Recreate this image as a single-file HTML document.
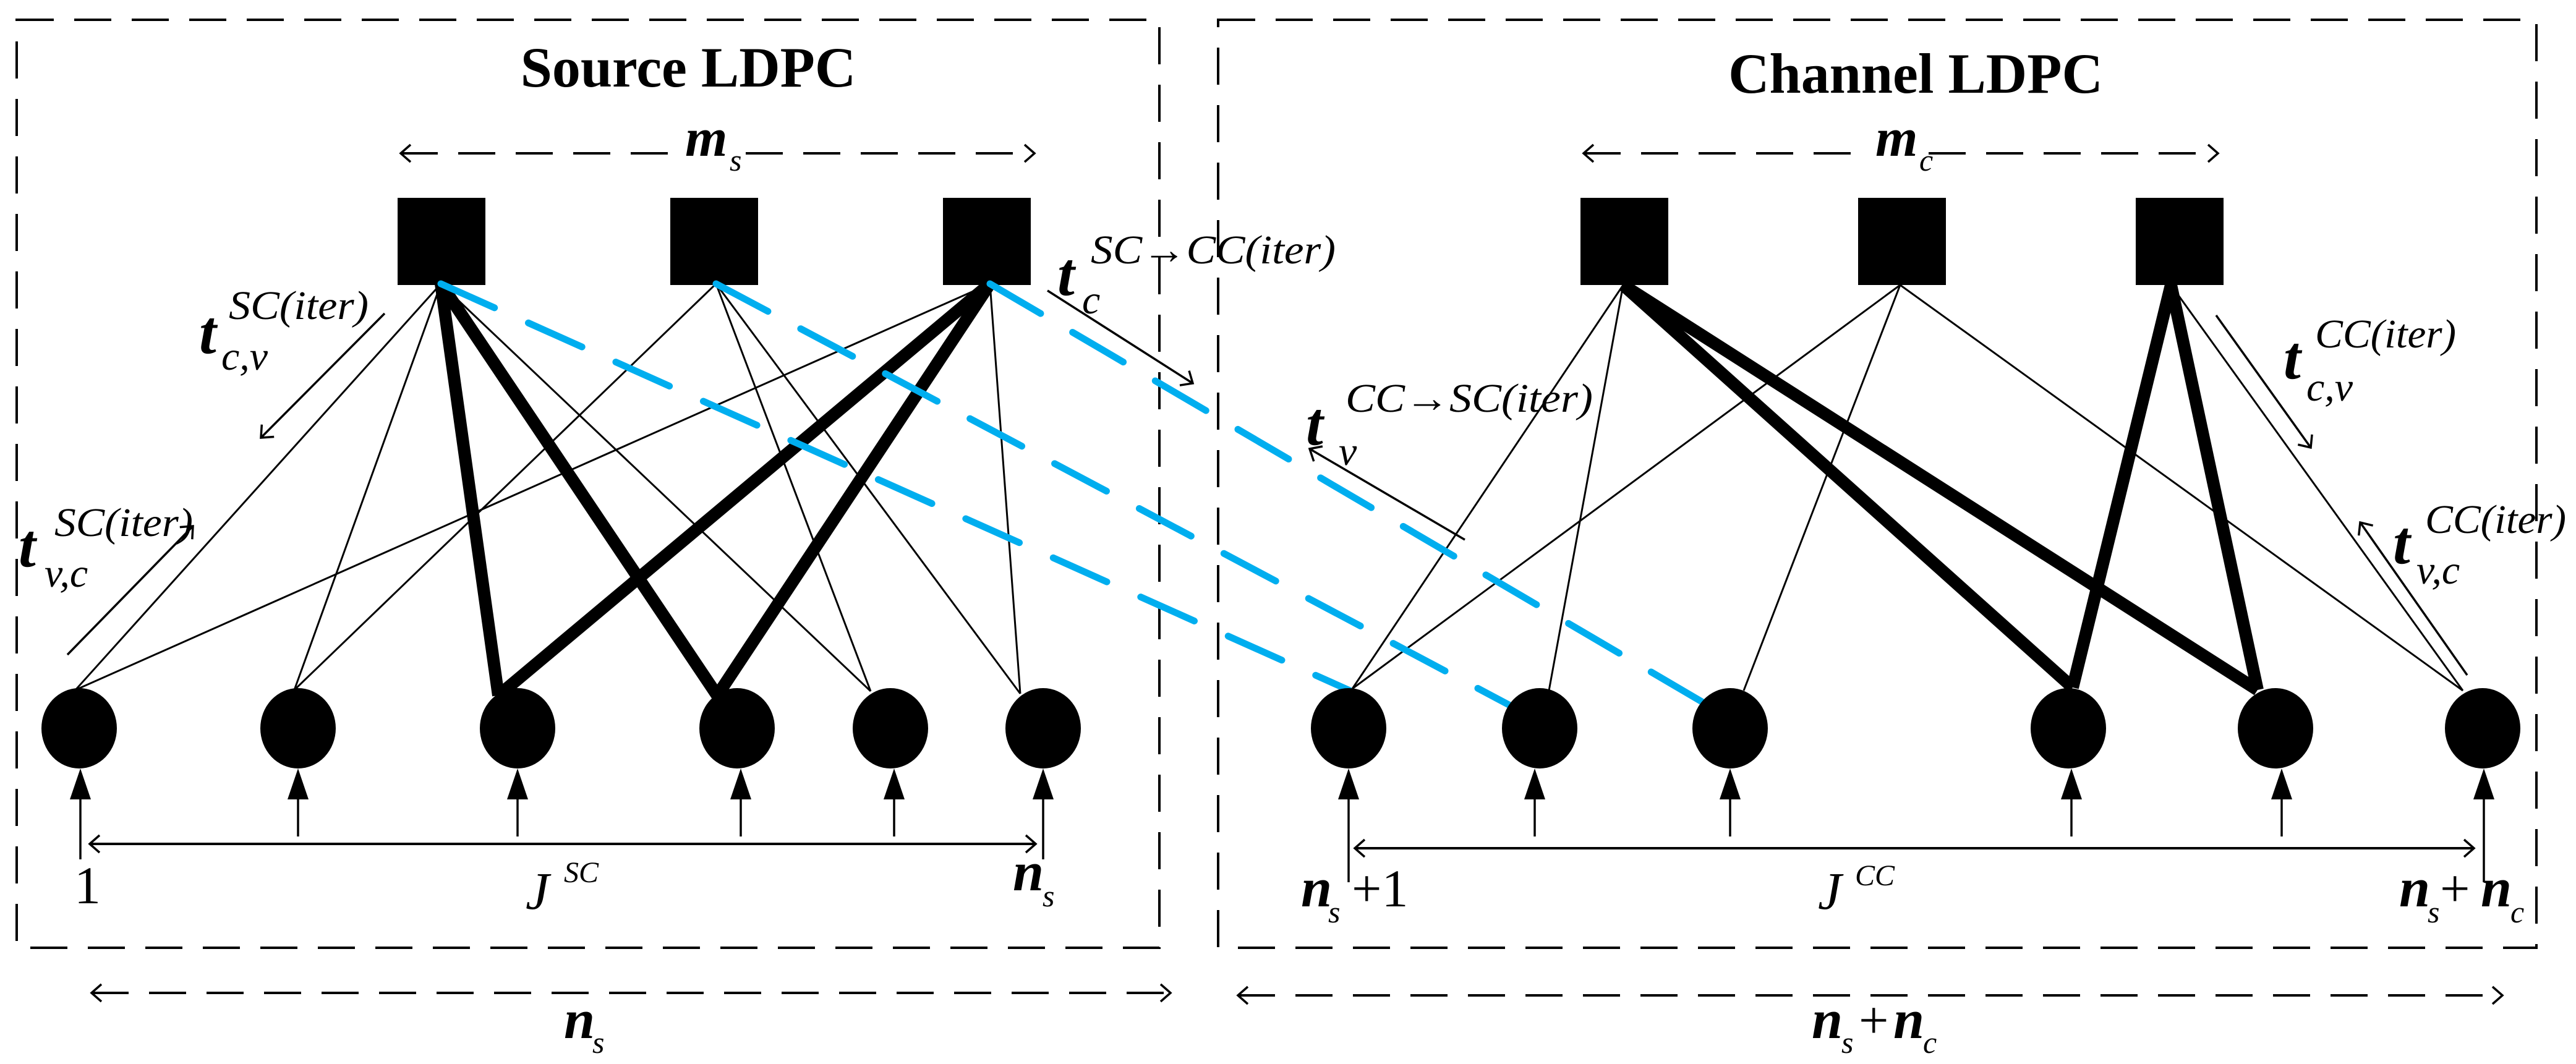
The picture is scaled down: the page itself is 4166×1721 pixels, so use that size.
<!DOCTYPE html>
<html><head><meta charset="utf-8"><style>
html,body{margin:0;padding:0;background:#fff;}
svg{display:block;}
text{font-family:"Liberation Serif",serif;fill:#000;}
.b{font-weight:bold;}
.i{font-style:italic;}
.bi{font-weight:bold;font-style:italic;}
</style></head><body>
<svg width="4166" height="1721" viewBox="0 0 4166 1721" xmlns="http://www.w3.org/2000/svg">
<defs>
<marker id="oa" markerWidth="40" markerHeight="40" refX="20" refY="20" orient="auto" markerUnits="userSpaceOnUse">
<path d="M4,6 L20,20 L4,34" fill="none" stroke="#000" stroke-width="3.5"/>
</marker>
<marker id="oas" markerWidth="40" markerHeight="40" refX="20" refY="20" orient="auto-start-reverse" markerUnits="userSpaceOnUse">
<path d="M4,6 L20,20 L4,34" fill="none" stroke="#000" stroke-width="3.5"/>
</marker>
</defs>

<!-- dashed boxes -->
<g fill="none" stroke="#000" stroke-width="4" stroke-dasharray="60,33">
<rect x="27" y="32" width="1848" height="1501"/>
<rect x="1970" y="32" width="2132" height="1501"/>
</g>

<!-- titles -->
<text x="1113" y="140" class="b" font-size="92" text-anchor="middle">Source LDPC</text>
<text x="3098" y="150" class="b" font-size="92" text-anchor="middle">Channel LDPC</text>

<!-- m arrows -->
<g fill="none" stroke="#000" stroke-width="4" stroke-dasharray="60,33">
<line x1="648" y1="248" x2="1673" y2="248" marker-start="url(#oas)" marker-end="url(#oa)"/>
<line x1="2561" y1="248" x2="3587" y2="248" marker-start="url(#oas)" marker-end="url(#oa)"/>
</g>
<rect x="1100" y="200" width="90" height="90" fill="#fff"/>
<rect x="3025" y="200" width="90" height="90" fill="#fff"/>
<text x="1108" y="252" class="bi" font-size="88">m</text>
<text x="1180" y="276" class="i" font-size="50">s</text>
<text x="3033" y="252" class="bi" font-size="88">m</text>
<text x="3104" y="276" class="i" font-size="50">c</text>

<!-- squares -->
<g fill="#000">
<rect x="643" y="320" width="142" height="141"/>
<rect x="1084" y="320" width="142" height="141"/>
<rect x="1525" y="320" width="142" height="141"/>
<rect x="2556" y="320" width="142" height="141"/>
<rect x="3005" y="320" width="142" height="141"/>
<rect x="3454" y="320" width="142" height="141"/>
</g>

<!-- thin edges left -->
<g stroke="#000" stroke-width="3" fill="none">
<line x1="713" y1="459" x2="122" y2="1116"/>
<line x1="713" y1="459" x2="476" y2="1116"/>
<line x1="713" y1="459" x2="1408" y2="1118"/>
<line x1="1158" y1="459" x2="476" y2="1116"/>
<line x1="1158" y1="459" x2="1408" y2="1118"/>
<line x1="1158" y1="459" x2="1650" y2="1122"/>
<line x1="1601" y1="459" x2="122" y2="1116"/>
<line x1="1601" y1="459" x2="1650" y2="1122"/>
<!-- right -->
<line x1="2625" y1="461" x2="2187" y2="1114"/>
<line x1="2625" y1="461" x2="2505" y2="1117"/>
<line x1="3073" y1="461" x2="2187" y2="1114"/>
<line x1="3073" y1="461" x2="2820" y2="1117"/>
<line x1="3073" y1="461" x2="3983" y2="1117"/>
<line x1="3511" y1="461" x2="3983" y2="1117"/>
</g>

<!-- thick edges -->
<g stroke="#000" stroke-width="20" fill="none" stroke-linecap="butt">
<line x1="713" y1="459" x2="806" y2="1125"/>
<line x1="713" y1="459" x2="1160" y2="1125"/>
<line x1="1601" y1="459" x2="806" y2="1125"/>
<line x1="1601" y1="459" x2="1160" y2="1125"/>
<line x1="2625" y1="461" x2="3352" y2="1112"/>
<line x1="2625" y1="461" x2="3651" y2="1116"/>
<line x1="3511" y1="461" x2="3352" y2="1112"/>
<line x1="3511" y1="461" x2="3651" y2="1116"/>
</g>

<!-- blue dashed -->
<g stroke="#00AEEF" stroke-width="11" fill="none" stroke-dasharray="95,60" stroke-linecap="round">
<line x1="713" y1="459" x2="2183" y2="1117"/>
<line x1="1158" y1="459" x2="2442" y2="1141"/>
<line x1="1601" y1="459" x2="2754" y2="1136"/>
</g>

<!-- circles -->
<g fill="#000">
<ellipse cx="128" cy="1178" rx="61" ry="65"/>
<ellipse cx="482" cy="1178" rx="61" ry="65"/>
<ellipse cx="837" cy="1178" rx="61" ry="65"/>
<ellipse cx="1192" cy="1178" rx="61" ry="65"/>
<ellipse cx="1440" cy="1178" rx="61" ry="65"/>
<ellipse cx="1687" cy="1178" rx="61" ry="65"/>
<ellipse cx="2181" cy="1178" rx="61" ry="65"/>
<ellipse cx="2490" cy="1178" rx="61" ry="65"/>
<ellipse cx="2798" cy="1178" rx="61" ry="65"/>
<ellipse cx="3345" cy="1178" rx="61" ry="65"/>
<ellipse cx="3680" cy="1178" rx="61" ry="65"/>
<ellipse cx="4015" cy="1178" rx="61" ry="65"/>
</g>

<!-- input arrows -->
<g stroke="#000" stroke-width="3.5">
<line x1="130" y1="1390" x2="130" y2="1280"/>
<line x1="482" y1="1353" x2="482" y2="1280"/>
<line x1="837" y1="1353" x2="837" y2="1280"/>
<line x1="1198" y1="1353" x2="1198" y2="1280"/>
<line x1="1446" y1="1353" x2="1446" y2="1280"/>
<line x1="1687" y1="1390" x2="1687" y2="1280"/>
<line x1="2181" y1="1427" x2="2181" y2="1280"/>
<line x1="2482" y1="1353" x2="2482" y2="1280"/>
<line x1="2798" y1="1353" x2="2798" y2="1280"/>
<line x1="3350" y1="1353" x2="3350" y2="1280"/>
<line x1="3690" y1="1353" x2="3690" y2="1280"/>
<line x1="4017" y1="1427" x2="4017" y2="1280"/>
</g>
<g fill="#000">
<polygon points="130,1243 113,1293 147,1293"/>
<polygon points="482,1243 465,1293 499,1293"/>
<polygon points="837,1243 820,1293 854,1293"/>
<polygon points="1198,1243 1181,1293 1215,1293"/>
<polygon points="1446,1243 1429,1293 1463,1293"/>
<polygon points="1687,1243 1670,1293 1704,1293"/>
<polygon points="2181,1243 2164,1293 2198,1293"/>
<polygon points="2482,1243 2465,1293 2499,1293"/>
<polygon points="2798,1243 2781,1293 2815,1293"/>
<polygon points="3350,1243 3333,1293 3367,1293"/>
<polygon points="3690,1243 3673,1293 3707,1293"/>
<polygon points="4017,1243 4000,1293 4034,1293"/>
</g>

<!-- J arrows -->
<g stroke="#000" stroke-width="4" fill="none">
<line x1="145" y1="1365" x2="1675" y2="1365" marker-start="url(#oas)" marker-end="url(#oa)"/>
<line x1="2191" y1="1372" x2="4001" y2="1372" marker-start="url(#oas)" marker-end="url(#oa)"/>
</g>

<!-- bottom dashed arrows -->
<g stroke="#000" stroke-width="4" fill="none" stroke-dasharray="60,33">
<line x1="148" y1="1606" x2="1893" y2="1606" marker-start="url(#oas)" marker-end="url(#oa)"/>
<line x1="2002" y1="1610" x2="4047" y2="1610" marker-start="url(#oas)" marker-end="url(#oa)"/>
</g>

<!-- bottom labels -->
<text x="120" y="1461" font-size="86">1</text>
<text x="850" y="1470" class="i" font-size="86">J</text>
<text x="912" y="1427" class="i" font-size="48">SC</text>
<text x="1638" y="1440" class="bi" font-size="90">n</text>
<text x="1686" y="1466" class="i" font-size="50">s</text>

<text x="2104" y="1466" class="bi" font-size="90">n</text>
<text x="2148" y="1492" class="i" font-size="50">s</text>
<text x="2186" y="1466" font-size="86">+1</text>
<text x="2940" y="1470" class="i" font-size="86">J</text>
<text x="3000" y="1432" class="i" font-size="48">CC</text>
<text x="3880" y="1466" class="bi" font-size="90">n</text>
<text x="3926" y="1492" class="i" font-size="50">s</text>
<text x="3946" y="1466" font-size="86">+</text>
<text x="4012" y="1466" class="bi" font-size="90">n</text>
<text x="4060" y="1492" class="i" font-size="50">c</text>

<text x="912" y="1679" class="bi" font-size="90">n</text>
<text x="958" y="1703" class="i" font-size="50">s</text>
<text x="2930" y="1679" class="bi" font-size="90">n</text>
<text x="2978" y="1703" class="i" font-size="50">s</text>
<text x="3006" y="1679" font-size="86">+</text>
<text x="3062" y="1679" class="bi" font-size="90">n</text>
<text x="3110" y="1703" class="i" font-size="50">c</text>

<!-- message arrows -->
<g stroke="#000" stroke-width="3.5" fill="none">
<line x1="622" y1="507" x2="422" y2="708" marker-end="url(#oa)"/>
<line x1="109" y1="1059" x2="312" y2="851" marker-end="url(#oa)"/>
<line x1="1694" y1="470" x2="1929" y2="620" marker-end="url(#oa)"/>
<line x1="2369" y1="873" x2="2118" y2="726" marker-end="url(#oa)"/>
<line x1="3584" y1="510" x2="3737" y2="724" marker-end="url(#oa)"/>
<line x1="3990" y1="1092" x2="3817" y2="845" marker-end="url(#oa)"/>
</g>

<!-- message labels -->
<text x="322" y="571" class="bi" font-size="100">t</text>
<text x="370" y="516" class="i" font-size="66" textLength="226" lengthAdjust="spacingAndGlyphs">SC(iter)</text>
<text x="358" y="598" class="i" font-size="66">c,v</text>

<text x="30" y="916" class="bi" font-size="100">t</text>
<text x="88" y="867" class="i" font-size="66" textLength="224" lengthAdjust="spacingAndGlyphs">SC(iter)</text>
<text x="72" y="949" class="i" font-size="66">v,c</text>

<text x="1710" y="477" class="bi" font-size="100">t</text>
<text x="1764" y="426" class="i" font-size="66" textLength="396" lengthAdjust="spacingAndGlyphs">SC→CC(iter)</text>
<text x="1750" y="507" class="i" font-size="66">c</text>

<text x="2112" y="719" class="bi" font-size="100">t</text>
<text x="2176" y="666" class="i" font-size="66" textLength="400" lengthAdjust="spacingAndGlyphs">CC→SC(iter)</text>
<text x="2165" y="752" class="i" font-size="66">v</text>

<text x="3693" y="612" class="bi" font-size="100">t</text>
<text x="3744" y="562" class="i" font-size="66" textLength="228" lengthAdjust="spacingAndGlyphs">CC(iter)</text>
<text x="3730" y="648" class="i" font-size="66">c,v</text>

<text x="3870" y="911" class="bi" font-size="100">t</text>
<text x="3922" y="862" class="i" font-size="66" textLength="228" lengthAdjust="spacingAndGlyphs">CC(iter)</text>
<text x="3908" y="944" class="i" font-size="66">v,c</text>
</svg>
</body></html>
